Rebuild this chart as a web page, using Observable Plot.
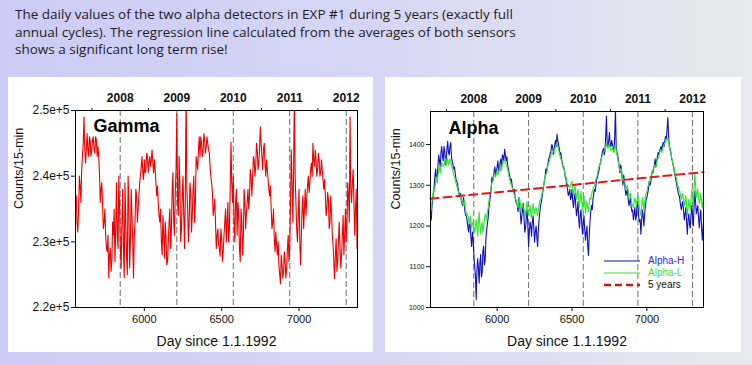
<!DOCTYPE html>
<html>
<head>
<meta charset="utf-8">
<script src="https://cdn.jsdelivr.net/npm/d3@7"></script>
<script src="https://cdn.jsdelivr.net/npm/@observablehq/plot@0.6"></script>
<style>
  html, body { margin: 0; padding: 0; }
  body { width: 752px; height: 365px; overflow: hidden; position: relative;
         background: linear-gradient(90deg, #cbcbf6 0%, #d6d6f4 50%, #e8e8ee 100%);
         font-family: "Liberation Sans", Arial, sans-serif; }
  #title { position: absolute; left: 15px; top: 6px; font-family: "Open Sans", sans-serif;
           font-size: 13.5px; line-height: 17.5px; color: #1e1e1e; white-space: nowrap; }
  .panel { position: absolute; top: 77px; height: 275px; background: #fff; }
  #left { left: 8px; width: 365px; }
  #right { left: 385px; width: 356px; }
  .panel svg { display: block; }
  #legend { position: absolute; left: 604px; top: 255px; font-size: 10px; line-height: 12px; }
  #legend div { display: flex; align-items: center; height: 12px; }
  #legend svg { margin-right: 8px; }
</style>
</head>
<body>
<div id="title">The daily values of the two alpha detectors in EXP #1 during 5 years (exactly full<br>annual cycles). The regression line calculated from the averages of both sensors<br>shows a significant long term rise!</div>
<div id="left" class="panel"></div>
<div id="right" class="panel"></div>
<div id="legend"></div>
<script>
// ---------- data ----------
const START_DAY = 5560;   // first sample (day since 1.1.1992)
const STEP_DAYS = 10;     // spacing of the main samples; "mid" samples sit 5 days later

const yearDays = [5844, 6210, 6575, 6940, 7305];
const yearLabels = ["2008", "2009", "2010", "2011", "2012"];
const midYearDays = [5661, 6027, 6392, 6757, 7122];
const xTicks = [6000, 6500, 7000];

// Gamma, counts/15-min in thousands
const gammaK = [
  237, 231.5, 240, 236, 243, 249, 242, 246.5, 243, 245.5,
  244, 246, 243.5, 245.5, 244.5, 240.5, 238, 235.5, 233, 231,
  228.5, 224.5, 229, 227, 231, 227, 239, 229, 235, 226,
  238, 224.5, 233, 225, 236, 230, 234, 224.5, 233, 237,
  235, 239, 241.5, 240.5, 242.5, 241, 243, 242, 241.5, 244,
  240.5, 241, 237, 236, 233, 230, 234, 227.5, 231, 227,
  233, 229, 238, 233, 237.5, 249.5, 234, 238.5, 232, 240,
  229, 253, 235, 233, 237.5, 234, 240, 236, 242, 244,
  243, 245, 244, 245.5, 244.5, 245, 243.5, 240, 237.5, 235,
  233, 231, 229.5, 227.8, 230.5, 228.5, 233, 230, 236, 232,
  245.2, 236, 233, 236, 231, 234, 227, 233, 231, 236,
  234.5, 238, 237, 240, 239.5, 242.5, 241.5, 244, 242, 247.5,
  243, 244, 242, 242.5, 239.5, 237, 235, 233, 230.5, 231.5,
  228, 226.5, 223.6, 226.5, 225.5, 227, 226, 231, 229, 244,
  233, 253, 236, 230, 238, 226.5, 235, 232, 238, 236.5,
  240, 239, 242, 245, 241.5, 242.5, 241, 242.5, 240.5, 241,
  238, 237, 235, 236.5, 233, 234.5, 229.5, 224.4, 230.5, 227,
  233, 226, 231, 228, 235, 232.5, 237, 249, 236, 241,
  231, 238, 233
];
const gammaMidK = [
  233, 235, 238.5, 241, 245, 244, 244, 244, 246, 243,
  245.5, 244, 246, 243, 243, 236, 239, 232, 235, 229,
  231, 228, 225.5, 233, 235, 232, 231, 240, 229, 233,
  229, 239, 228, 240, 226, 238, 230, 231, 238, 233,
  237, 240, 243, 239.5, 240.5, 243.5, 240.5, 243, 242.5, 242,
  242.5, 239, 238.5, 234, 235, 228, 231, 233, 226.5, 230,
  235, 232, 240.5, 231, 241, 236, 243, 230, 237, 234,
  237, 238, 230, 239, 231.5, 238, 233, 243, 241, 246,
  246, 243, 246.5, 243.5, 246, 244, 241.5, 239, 234, 236.5,
  229, 232, 229, 232, 227, 231, 235, 233, 230, 238,
  239, 240, 230, 238, 236, 229, 235, 228, 238, 232,
  236, 235, 241, 237, 243, 240, 245, 241, 244, 245,
  241, 245, 240, 241, 238, 238.5, 232, 235, 228.5, 229.5,
  230, 225, 228, 224.5, 228.5, 224.5, 229, 227, 236, 239,
  241, 240, 232, 234, 230, 231, 237, 235, 234, 238.5,
  237.5, 241, 240, 242.5, 244, 240, 243.5, 240, 242.5, 239.5,
  239.5, 234, 237.5, 232, 237, 231, 227, 228, 225.5, 230,
  229, 228, 234, 231, 230, 239, 233, 238, 239, 236,
  235, 229
];
const gammaTicks = [220000, 230000, 240000, 250000];
const gammaTickLabels = ["2.2e+5", "2.3e+5", "2.4e+5", "2.5e+5"];

// Alpha-H (blue), counts/15-min
const alphaH = [
  1215, 1265, 1300, 1340, 1320, 1375, 1345, 1395, 1360, 1385,
  1365, 1408, 1375, 1405, 1360, 1340, 1330, 1310, 1290, 1275,
  1265, 1250, 1260, 1225, 1210, 1185, 1200, 1150, 1165, 1100,
  1019, 1120, 1060, 1130, 1085, 1150, 1115, 1190, 1220, 1260,
  1290, 1310, 1335, 1325, 1345, 1335, 1355, 1345, 1370, 1388,
  1360, 1350, 1330, 1310, 1300, 1285, 1270, 1255, 1235, 1260,
  1205, 1240, 1215, 1195, 1240, 1150, 1210, 1175, 1225, 1160,
  1200, 1150, 1215, 1250, 1270, 1295, 1320, 1330, 1355, 1370,
  1385, 1395, 1385, 1410, 1425, 1400, 1375, 1365, 1345, 1335,
  1315, 1290, 1280, 1265, 1290, 1245, 1280, 1225, 1260, 1195,
  1240, 1180, 1225, 1165, 1200, 1128, 1210, 1250, 1265, 1290,
  1300, 1320, 1335, 1355, 1375, 1390, 1385, 1470, 1395, 1430,
  1395, 1400, 1385, 1485, 1380, 1360, 1330, 1340, 1300, 1310,
  1275, 1290, 1250, 1270, 1235, 1215, 1245, 1225, 1250, 1210,
  1180, 1240, 1200, 1250, 1270, 1290, 1300, 1320, 1330, 1350,
  1345, 1370, 1375, 1390, 1385, 1405, 1410, 1415, 1466, 1395,
  1380, 1360, 1340, 1320, 1300, 1280, 1265, 1240, 1260, 1215,
  1245, 1180, 1230, 1195, 1250, 1200, 1285, 1230, 1250, 1195,
  1240, 1165, 1220
];
const alphaHMid = [
  1250, 1280, 1325, 1310, 1350, 1360, 1380, 1370, 1395, 1350,
  1390, 1380, 1395, 1370, 1350, 1345, 1315, 1305, 1280, 1280,
  1255, 1270, 1235, 1225, 1195, 1215, 1170, 1185, 1125, 1080,
  1090, 1095, 1110, 1075, 1140, 1105, 1170, 1205, 1245, 1275,
  1320, 1315, 1345, 1335, 1360, 1340, 1365, 1375, 1360, 1375,
  1370, 1340, 1320, 1315, 1290, 1290, 1260, 1250, 1270, 1230,
  1225, 1255, 1185, 1225, 1200, 1185, 1200, 1210, 1195, 1185,
  1175, 1190, 1235, 1260, 1285, 1310, 1340, 1345, 1365, 1380,
  1400, 1375, 1400, 1395, 1410, 1390, 1380, 1355, 1345, 1320,
  1300, 1275, 1290, 1270, 1260, 1265, 1250, 1240, 1215, 1225,
  1205, 1210, 1190, 1185, 1150, 1180, 1235, 1240, 1280, 1285,
  1315, 1330, 1350, 1365, 1385, 1375, 1420, 1400, 1410, 1400,
  1410, 1390, 1420, 1395, 1375, 1345, 1350, 1315, 1325, 1290,
  1285, 1265, 1260, 1245, 1240, 1230, 1215, 1260, 1225, 1215,
  1215, 1225, 1230, 1265, 1280, 1310, 1305, 1335, 1340, 1365,
  1360, 1380, 1385, 1395, 1400, 1395, 1420, 1440, 1420, 1390,
  1365, 1350, 1330, 1310, 1290, 1275, 1250, 1255, 1235, 1230,
  1210, 1215, 1205, 1230, 1220, 1245, 1260, 1240, 1220, 1225,
  1200, 1195
];
// Alpha-L (green), counts/15-min
const alphaL = [
  1240, 1270, 1285, 1310, 1305, 1340, 1330, 1355, 1345, 1360,
  1350, 1365, 1355, 1360, 1340, 1325, 1315, 1300, 1285, 1270,
  1265, 1255, 1265, 1240, 1230, 1215, 1225, 1195, 1210, 1185,
  1215, 1175, 1235, 1180, 1210, 1195, 1230, 1215, 1245, 1275,
  1295, 1310, 1325, 1320, 1335, 1330, 1345, 1340, 1360, 1365,
  1350, 1340, 1320, 1305, 1295, 1280, 1270, 1260, 1245, 1270,
  1235, 1255, 1240, 1225, 1260, 1225, 1250, 1220, 1255, 1230,
  1245, 1225, 1250, 1265, 1280, 1300, 1320, 1330, 1350, 1360,
  1375, 1385, 1380, 1395, 1405, 1390, 1370, 1360, 1345, 1335,
  1320, 1300, 1295, 1300, 1310, 1275, 1300, 1265, 1290, 1245,
  1285, 1240, 1275, 1230, 1260, 1235, 1270, 1275, 1290, 1300,
  1315, 1330, 1345, 1355, 1370, 1380, 1385, 1405, 1390, 1400,
  1385, 1395, 1380, 1400, 1375, 1355, 1335, 1340, 1310, 1315,
  1290, 1300, 1270, 1280, 1255, 1245, 1270, 1250, 1275, 1245,
  1225, 1270, 1240, 1275, 1285, 1300, 1310, 1325, 1335, 1350,
  1345, 1365, 1370, 1385, 1380, 1395, 1405, 1410, 1415, 1395,
  1380, 1360, 1345, 1325, 1310, 1295, 1285, 1265, 1280, 1250,
  1275, 1225, 1265, 1240, 1290, 1250, 1330, 1270, 1290, 1255,
  1280, 1245, 1270
];
const alphaLMid = [
  1260, 1290, 1295, 1320, 1325, 1345, 1345, 1350, 1350, 1365,
  1360, 1350, 1365, 1350, 1335, 1320, 1305, 1290, 1280, 1275,
  1260, 1250, 1250, 1225, 1225, 1205, 1215, 1205, 1195, 1200,
  1195, 1210, 1200, 1200, 1185, 1215, 1225, 1235, 1260, 1285,
  1305, 1315, 1325, 1330, 1325, 1340, 1335, 1355, 1355, 1360,
  1345, 1330, 1315, 1300, 1285, 1275, 1265, 1250, 1260, 1250,
  1250, 1245, 1235, 1245, 1240, 1240, 1230, 1240, 1240, 1240,
  1235, 1240, 1260, 1270, 1290, 1310, 1325, 1340, 1355, 1370,
  1380, 1385, 1390, 1400, 1395, 1380, 1365, 1350, 1340, 1325,
  1310, 1300, 1295, 1305, 1290, 1290, 1280, 1280, 1265, 1265,
  1260, 1260, 1250, 1250, 1245, 1255, 1265, 1285, 1295, 1305,
  1320, 1340, 1350, 1365, 1375, 1385, 1395, 1395, 1395, 1390,
  1390, 1385, 1390, 1385, 1365, 1345, 1340, 1325, 1315, 1300,
  1295, 1285, 1275, 1265, 1250, 1260, 1260, 1265, 1260, 1235,
  1250, 1255, 1260, 1280, 1295, 1305, 1320, 1330, 1345, 1345,
  1355, 1365, 1380, 1385, 1390, 1400, 1405, 1412, 1405, 1385,
  1370, 1350, 1335, 1320, 1300, 1290, 1275, 1275, 1265, 1260,
  1250, 1245, 1250, 1265, 1270, 1290, 1300, 1280, 1270, 1265,
  1260, 1260
];
// 5-year regression line (end points)
const trendDays = [5555, 7378];
const trendValues = [1267, 1332];
const alphaTicks = [1000, 1100, 1200, 1300, 1400];

const xDomain = [5555, 7378];

// ---------- tables ----------
function series(main, mid, scale = 1) {
  const out = [];
  main.forEach((v, i) => {
    out.push({day: START_DAY + i * STEP_DAYS, value: v * scale});
    if (i < mid.length) out.push({day: START_DAY + i * STEP_DAYS + STEP_DAYS / 2, value: mid[i] * scale});
  });
  return out;
}
const gammaData = series(gammaK, gammaMidK, 1000);
const hData = series(alphaH, alphaHMid);
const lData = series(alphaL, alphaLMid);
const trendData = trendDays.map((d, i) => ({day: d, value: trendValues[i]}));

const font = "'Liberation Sans', Arial, sans-serif";
const ink = "#111";

function axesMarks(opts) {
  return [
    Plot.frame({stroke: "#000", strokeWidth: 1}),
    Plot.axisX(xTicks, {anchor: "bottom", tickSize: 4, tickPadding: 4, fontSize: 11, color: ink, label: null, tickFormat: d => String(d)}),
    Plot.axisX(yearDays, {anchor: "top", tickSize: 0, tickPadding: 9, fontSize: 12, fontWeight: "bold", color: ink, label: null,
                          tickFormat: d => yearLabels[yearDays.indexOf(d)]}),
    Plot.axisX(midYearDays, {anchor: "top", tickSize: 3, color: ink, label: null, tickFormat: () => ""}),
    Plot.axisY(opts.yTicks, {anchor: "left", tickSize: 4, tickPadding: 2, fontSize: opts.yFont, color: ink, label: null,
                             tickFormat: opts.yFormat}),
    Plot.text([opts.title], {frameAnchor: "top-left", dx: 18, dy: opts.titleDy, fontSize: 18, fontWeight: "bold", fill: "#000"}),
    Plot.text(["Day since 1.1.1992"], {frameAnchor: "bottom", dy: 38, fontSize: 14, fill: ink}),
    Plot.text(["Counts/15-min"], {frameAnchor: "left", rotate: -90, dx: opts.yLabelDx, fontSize: 12.5, fill: ink})
  ];
}
const yearRules = () => Plot.ruleX(yearDays, {stroke: "#6e6e6e", strokeWidth: 1, strokeDasharray: "6,3"});

const gammaPlot = Plot.plot({
  width: 365, height: 275,
  marginLeft: 67, marginRight: 16, marginTop: 33, marginBottom: 45,
  style: {fontFamily: font, background: "transparent", overflow: "visible"},
  x: {domain: xDomain},
  y: {domain: [220000, 250000]},
  marks: [
    yearRules(),
    Plot.line(gammaData, {x: "day", y: "value", stroke: "#ee0000", strokeWidth: 1.1, clip: true}),
    ...axesMarks({yTicks: gammaTicks, yFont: 12, yFormat: d => gammaTickLabels[gammaTicks.indexOf(d)],
                  title: "Gamma", titleDy: 9, yLabelDx: -57})
  ]
});
document.getElementById("left").appendChild(gammaPlot);

const alphaPlot = Plot.plot({
  width: 356, height: 275,
  marginLeft: 45, marginRight: 38, marginTop: 34, marginBottom: 45,
  style: {fontFamily: font, background: "transparent", overflow: "visible"},
  x: {domain: xDomain},
  y: {domain: [1000, 1481]},
  marks: [
    yearRules(),
    Plot.line(hData, {x: "day", y: "value", stroke: "#1010c0", strokeWidth: 1.1, clip: true}),
    Plot.line(lData, {x: "day", y: "value", stroke: "#2ee62e", strokeWidth: 1.1, clip: true}),
    Plot.line(trendData, {x: "day", y: "value", stroke: "#dd1a1a", strokeWidth: 2, strokeDasharray: "8,5"}),
    ...axesMarks({yTicks: alphaTicks, yFont: 7, yFormat: d => String(d),
                  title: "Alpha", titleDy: 10, yLabelDx: -35})
  ]
});
document.getElementById("right").appendChild(alphaPlot);

// legend
const legendItems = [
  {label: "Alpha-H", color: "#1010c0", text: "#2a2ae6", dash: null, width: 1.2},
  {label: "Alpha-L", color: "#2ee62e", text: "#3ee03e", dash: null, width: 1.2},
  {label: "5 years", color: "#c81818", text: "#111", dash: "7,4", width: 2.5}
];
const legend = document.getElementById("legend");
for (const it of legendItems) {
  const row = document.createElement("div");
  row.innerHTML = `<svg width="36" height="6"><line x1="0" x2="36" y1="3" y2="3" stroke="${it.color}" stroke-width="${it.width}" ${it.dash ? `stroke-dasharray="${it.dash}"` : ""}/></svg><span style="color:${it.text}">${it.label}</span>`;
  legend.appendChild(row);
}
</script>
</body>
</html>
